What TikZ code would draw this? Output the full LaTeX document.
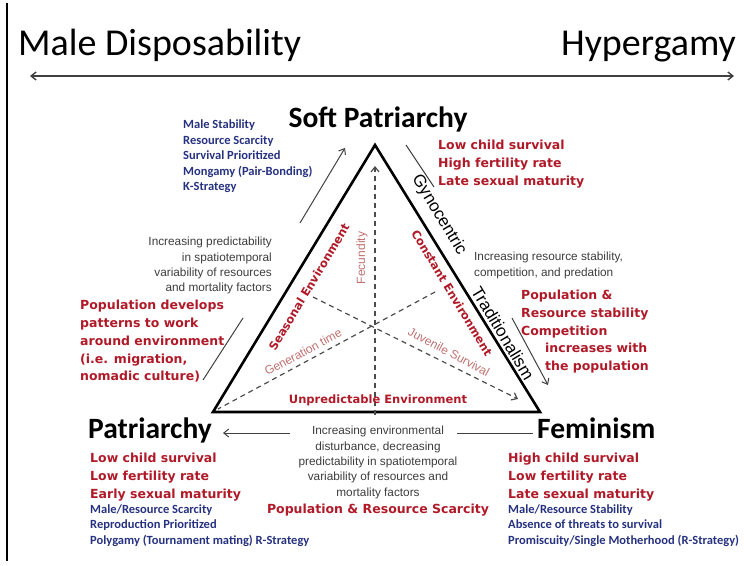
\documentclass[tikz,border=0pt]{standalone}
\usepackage{fontspec}
\setmainfont{Carlito}
\newfontfamily\widesans{DejaVu Sans}
\newfontfamily\plainsans{Liberation Sans}
\definecolor{myred}{RGB}{176,26,40}
\definecolor{myblue}{RGB}{38,50,128}
\definecolor{mygrey}{RGB}{60,60,60}
\definecolor{mypink}{RGB}{192,112,112}
\usetikzlibrary{positioning,arrows.meta}

\begin{document}
\begin{tikzpicture}[x=1pt,y=-1pt,
    every node/.style={inner sep=0pt},
    >={Straight Barb[length=5pt,width=8pt]},
    bigtitle/.style={font=\fontsize{38}{40}\selectfont},
    cornerlabel/.style={font=\bfseries\fontsize{29.5}{31}\selectfont},
    redtext/.style={text=myred,align=left,font=\widesans\bfseries\fontsize{12.5}{17.8}\selectfont},
    bluetext/.style={text=myblue,align=left,font=\bfseries\fontsize{12.5}{15.5}\selectfont},
    greytext/.style={text=mygrey,font=\plainsans\fontsize{11.8}{15.4}\selectfont},
    innerred/.style={text=myred,font=\widesans\bfseries\fontsize{11.5}{13}\selectfont},
    pinktext/.style={text=mypink,font=\plainsans\fontsize{12}{14}\selectfont},
    sidetext/.style={font=\plainsans\fontsize{17}{19}\selectfont},
    edge/.style={line width=2.6pt,line join=miter},
    dashline/.style={draw=black!70,line width=1.2pt,dash pattern=on 5pt off 4pt},
    guide/.style={draw=black!75,line width=1pt}
    ]
    \useasboundingbox (0,0) rectangle (744,565);

    % the scale on top
    \coordinate (bartop) at (7,3);
    \coordinate (barbot) at (7,561);
    \draw[line width=2.4pt] (bartop) -- (barbot);
    \node (maledisp) [bigtitle,anchor=base west] at (18,55) {Male Disposability};
    \node (hypergamy) [bigtitle,anchor=base east] at (736,55) {Hypergamy};
    \coordinate (axl) at (30,76);
    \coordinate (axr) at (734,76);
    \draw[guide,line width=1.4pt,<->] (axl) -- (axr);

    % the triangle
    \coordinate (apex) at (375,145);
    \coordinate (lcorner) at (213,412);
    \coordinate (rcorner) at (540,412);
    \draw[edge] (lcorner) -- (apex) -- (rcorner) -- cycle;

    \coordinate (fbase) at (375,415);
    \coordinate (ftip) at (375,166);
    \coordinate (gstart) at (435,292);
    \coordinate (gend) at (218,409);
    \coordinate (jstart) at (313,297);
    \coordinate (jend) at (518,399);
    \draw[dashline,->] (fbase) -- (ftip);
    \draw[dashline] (gstart) -- (gend);
    \draw[dashline,->] (jstart) -- (jend);

    \node (fecund) [pinktext,rotate=90] at (362,258) {Fecundity};
    \node (gentime) [pinktext,rotate=28] at (303,352) {Generation time};
    \node (juvsurv) [pinktext,rotate=-28] at (449,352) {Juvenile Survival};
    \node (seasenv) [innerred,rotate=59] at (309,287) {Seasonal Environment};
    \node (constenv) [innerred,rotate=-59] at (452,293) {Constant Environment};
    \node (unpredenv) [innerred] at (378,400) {Unpredictable Environment};
    \node (gyno) [sidetext,rotate=-59] at (439,215) {Gynocentric};
    \node (tradi) [sidetext,rotate=-59] at (503,333) {Traditionalism};

    % the corners
    \node (softp) [cornerlabel,anchor=base] at (378,127) {Soft Patriarchy};
    \node (patri) [cornerlabel,anchor=base west] at (88,438) {Patriarchy};
    \node (femin) [cornerlabel,anchor=base west] at (537,438) {Feminism};

    % the guides along the sides
    \coordinate (gl1) at (203,380);
    \coordinate (gl2) at (243,318);
    \coordinate (gl3) at (300,223);
    \coordinate (gl4) at (345,148);
    \coordinate (gr1) at (406,145);
    \coordinate (gr2) at (434,187);
    \coordinate (gr3) at (512,318);
    \coordinate (gr4) at (548,385);
    \coordinate (gb1) at (290,433);
    \coordinate (gb2) at (223,433);
    \coordinate (gb3) at (457,433);
    \coordinate (gb4) at (533,433);
    \draw[guide] (gl1) -- (gl2);
    \draw[guide,->] (gl3) -- (gl4);
    \draw[guide] (gr1) -- (gr2);
    \draw[guide,->] (gr3) -- (gr4);
    \draw[guide,->] (gb1) -- (gb2);
    \draw[guide] (gb3) -- (gb4);

    % the texts
    \node (tlblue) [bluetext,anchor=north west] at (183,120)
        {Male Stability\\Resource Scarcity\\Survival Prioritized\\Mongamy (Pair-Bonding)\\K-Strategy};
    \node (trred) [redtext,anchor=north west] at (438,140)
        {Low child survival\\High fertility rate\\Late sexual maturity};
    \node (lgrey) [greytext,align=right,anchor=north east] at (272,237)
        {Increasing predictability\\in spatiotemporal\\variability of resources\\and mortality factors};
    \node (lred) [redtext,anchor=north west] at (80,300)
        {Population develops\\patterns to work\\around environment\\(i.e. migration,\\nomadic culture)};
    \node (rgrey) [greytext,align=left,anchor=north west] at (474,252)
        {Increasing resource stability,\\competition, and predation};
    \node (rred) [redtext,anchor=north west] at (521,290)
        {Population \&\\Resource stability\\Competition};
    \node (rred2) [redtext,below=4.5pt of rred.south west,anchor=north west,xshift=24pt]
        {increases with\\the population};
    \node (bgrey) [greytext,align=center,anchor=north] at (378,426)
        {Increasing environmental\\disturbance, decreasing\\predictability in spatiotemporal\\variability of resources and\\mortality factors};
    \node (bred) [redtext,below=5pt of bgrey] {Population \& Resource Scarcity};
    \node (blred) [redtext,anchor=north west] at (90,453)
        {Low child survival\\Low fertility rate\\Early sexual maturity};
    \node (blblue) [bluetext,below=3pt of blred.south west,anchor=north west]
        {Male/Resource Scarcity\\Reproduction Prioritized\\Polygamy (Tournament mating) R-Strategy};
    \node (brred) [redtext,anchor=north west] at (508,453)
        {High child survival\\Low fertility rate\\Late sexual maturity};
    \node (brblue) [bluetext,below=3pt of brred.south west,anchor=north west]
        {Male/Resource Stability\\Absence of threats to survival\\Promiscuity/Single Motherhood (R-Strategy)};
\end{tikzpicture}
\end{document}
